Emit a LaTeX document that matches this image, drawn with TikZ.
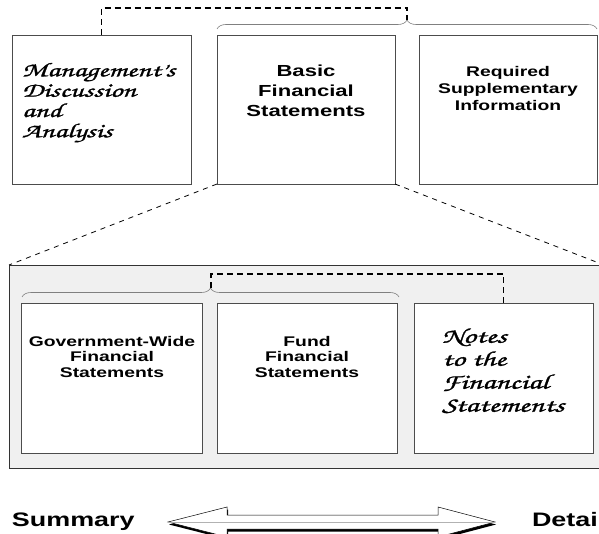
\documentclass[tikz,border=0pt]{standalone}
\usepackage{fontspec}
\newfontfamily\labelfont{Liberation Sans}[FakeStretch=1.38]
\newfontfamily\handfont{texgyrechorus-mediumitalic}[Extension=.otf,FakeStretch=1.5,FakeBold=1.2]
\usetikzlibrary{decorations.pathreplacing}
\begin{document}
\begin{tikzpicture}[x=1pt,y=-1pt,inner sep=0pt,outer sep=0pt,
stmtbox/.style={draw=gray!60!black,fill=white,line width=0.9pt,rectangle,minimum width=#1,minimum height=149pt},
stmtbox/.default=178pt,
boldtext/.style 2 args={font=\labelfont\bfseries\fontsize{#1}{#2}\selectfont,align=center,anchor=north},
handtext/.style 2 args={font=\handfont\fontsize{#1}{#2}\selectfont,align=left,anchor=north west},
link/.style={draw=black,line width=1.6pt,dash pattern=on 6pt off 4pt},
zoomline/.style={draw=black,line width=0.8pt,dash pattern=on 5pt off 5pt},
groupbrace/.style={draw=gray,line width=0.6pt,decorate,decoration={brace,amplitude=9pt}}]
\useasboundingbox (0,0) rectangle (599,534);
\clip (0,0) rectangle (599,534);
% top row
\node[stmtbox=179pt] (mda) at (101.5,109.5) {};
\node[stmtbox] (bfs) at (306,109.5) {};
\node[stmtbox] (rsi) at (508,109.5) {};
\node[handtext={20}{20.3}] (mdatext) at (22,63) {Management’s\\Discussion\\and\\Analysis};
\node[boldtext={16}{20}] (bfstext) at (306,64.5) {Basic\\Financial\\Statements};
\node[boldtext={14}{17}] (rsitext) at (508,66) {Required\\Supplementary\\Information};
\coordinate (tbl) at (217,29);
\coordinate (tbr) at (597,29);
\coordinate (ttip) at (407,20);
\coordinate (tbar) at (407,8);
\draw[groupbrace] (tbl) -- (tbr);
\draw[link] (mda.north) |- (tbar) -- (ttip);
% expanded basic statements
\node[draw=black!80,fill=black!6,line width=0.9pt,minimum width=595pt,minimum height=203pt] (panel) at (306.5,366.5) {};
\draw[zoomline] (bfs.south west) -- (panel.north west);
\draw[zoomline] (bfs.south east) -- (panel.north east);
\node[stmtbox=181pt,minimum height=150pt] (gw) at (111.5,378) {};
\node[stmtbox=180pt,minimum height=150pt] (fund) at (307,378) {};
\node[stmtbox=179pt,minimum height=150pt] (notes) at (503.5,378) {};
\node[boldtext={14}{15.5}] (gwtext) at (112,336) {Government-Wide\\Financial\\Statements};
\node[boldtext={14}{15.5}] (fundtext) at (307,336) {Fund\\Financial\\Statements};
\node[handtext={21}{23}] (notestext) at (442,328.5) {Notes\\to the\\Financial\\Statements};
\coordinate (ibl) at (22,297);
\coordinate (ibr) at (399,297);
\coordinate (itip) at (211,288);
\coordinate (ibar) at (211,274);
\draw[groupbrace] (ibl) -- (ibr);
\draw[link] (itip) -- (ibar) -| (notes.north);
% summary - detail scale
\node[font=\labelfont\bfseries\fontsize{19.5}{19.5}\selectfont,anchor=base west] (summary) at (12,526) {Summary};
\node[font=\labelfont\bfseries\fontsize{19.5}{19.5}\selectfont,anchor=base west] (detail) at (532,526) {Detail};
\fill[black,shift={(1,2.5)}] (168,522) -- (227,507) -- (227,515) -- (438,515) -- (438,507) -- (495,522)
  -- (438,537) -- (438,529) -- (227,529) -- (227,537) -- cycle;
\draw[fill=white,line width=0.5pt] (168,522) -- (227,507) -- (227,515) -- (438,515) -- (438,507) -- (495,522)
  -- (438,537) -- (438,529) -- (227,529) -- (227,537) -- cycle;
\draw[gray!60,line width=0.5pt] (168,522) -- (495,522);
\end{tikzpicture}
\end{document}
